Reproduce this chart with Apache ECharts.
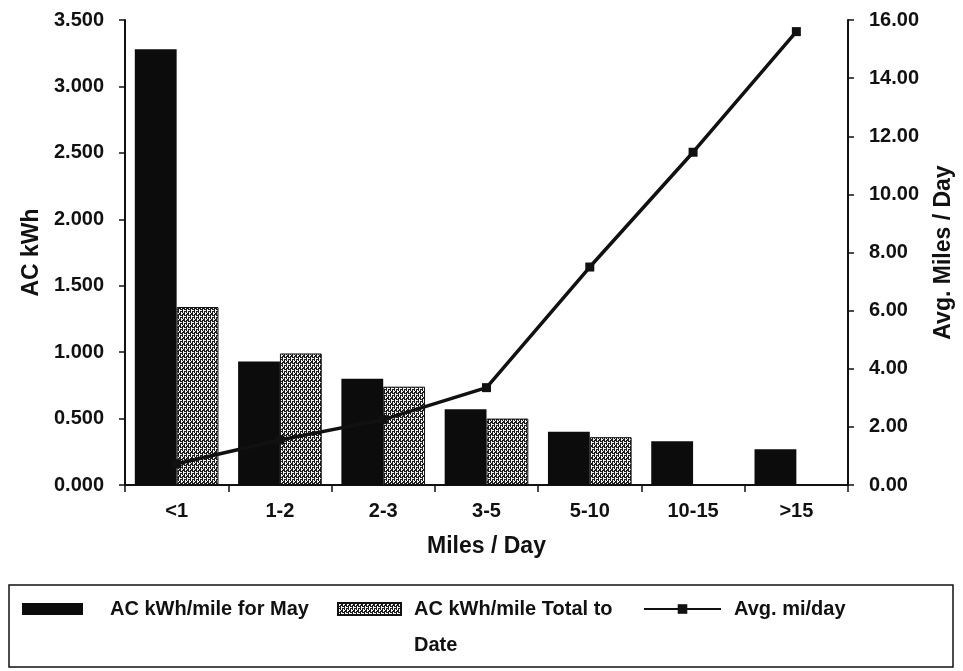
<!DOCTYPE html>
<html><head><meta charset="utf-8">
<script src="https://cdn.jsdelivr.net/npm/echarts@6/dist/echarts.min.js"></script>
<style>html,body{margin:0;padding:0;background:#fff}#c{width:963px;height:671px}</style>
</head><body><div id="c"></div>
<script>
var categories = ['<1', '1-2', '2-3', '3-5', '5-10', '10-15', '>15'];
var kwhMay = [3.28, 0.93, 0.80, 0.57, 0.40, 0.33, 0.27];
var kwhTotal = [1.34, 0.99, 0.74, 0.50, 0.36, null, null];
var avgMiles = [0.73, 1.55, 2.25, 3.35, 7.5, 11.45, 15.6];
var leftTicks = { min: 0, max: 3.5, interval: 0.5 };
var rightTicks = { min: 0, max: 16, interval: 2 };
var seriesNames = ['AC kWh/mile for May', 'AC kWh/mile Total to Date', 'Avg. mi/day'];

var pc = document.createElement('canvas');
pc.width = 4; pc.height = 6;
var g = pc.getContext('2d');
g.fillStyle = '#1c1c1c'; g.fillRect(0, 0, 4, 6);
g.fillStyle = '#f4f4f4';
[[1,0],[1,1],[1,2],[3,3],[3,4],[3,5],[0,4],[2,1],[3,0],[1,4]].forEach(function (p) { g.fillRect(p[0], p[1], 1, 1); });
var pattern = { image: pc, repeat: 'repeat' };

var font = 'Liberation Sans, Arial, sans-serif';
var tickFont = { fontSize: 20, fontWeight: 'bold', color: '#111', fontFamily: font };
var titleFont = { fontSize: 23, fontWeight: 'bold', color: '#111', fontFamily: font };
var legendFont = { fontSize: 20, fontWeight: 'bold', color: '#111', fontFamily: font };
var chart = echarts.init(document.getElementById('c'), null, { renderer: 'canvas' });
chart.setOption({
  animation: false,
  backgroundColor: '#fff',
  textStyle: { fontFamily: font, color: '#111' },
  grid: { left: 125, right: 112, top: 20, bottom: 186 },
  graphic: [{
    type: 'rect', shape: { x: 9, y: 585, width: 944, height: 82 },
    style: { fill: 'none', stroke: '#111', lineWidth: 1.5 }, z: 0
  }],
  legend: [
    { data: [{ name: seriesNames[0], icon: 'rect' }], left: 17, top: 592, itemWidth: 61, itemHeight: 12, itemGap: 0,
      textStyle: Object.assign({ padding: [0, 0, 0, 22], lineHeight: 24 }, legendFont) },
    { data: [{ name: seriesNames[1], icon: 'rect' }], left: 332, top: 550, itemWidth: 63, itemHeight: 12, itemGap: 0,
      formatter: function () { return ' \nAC kWh/mile Total to\nDate'; },
      textStyle: Object.assign({ padding: [0, 0, 0, 8], lineHeight: 36 }, legendFont) },
    { data: [seriesNames[2]], left: 638, top: 592, itemWidth: 77, itemHeight: 12, itemGap: 0,
      lineStyle: { width: 2 },
      textStyle: Object.assign({ padding: [0, 0, 0, 8], lineHeight: 24 }, legendFont) }
  ],
  xAxis: {
    type: 'category', data: categories,
    name: 'Miles / Day', nameLocation: 'middle', nameGap: 50,
    nameTextStyle: titleFont,
    axisLine: { lineStyle: { color: '#111', width: 2 } },
    axisTick: { show: true, length: 7, lineStyle: { color: '#111', width: 1.5 } },
    axisLabel: Object.assign({ margin: 16 }, tickFont)
  },
  yAxis: [{
    type: 'value', min: leftTicks.min, max: leftTicks.max, interval: leftTicks.interval,
    name: 'AC kWh', nameLocation: 'middle', nameGap: 74, nameRotate: 90,
    nameTextStyle: titleFont,
    axisLine: { show: true, lineStyle: { color: '#111', width: 2 } },
    axisTick: { show: true, length: 6, lineStyle: { color: '#111', width: 1.5 } },
    splitLine: { show: false },
    axisLabel: Object.assign({ margin: 21, formatter: function (v) { return v.toFixed(3); } }, tickFont)
  }, {
    type: 'value', position: 'right', min: rightTicks.min, max: rightTicks.max, interval: rightTicks.interval,
    name: 'Avg. Miles / Day', nameLocation: 'middle', nameGap: 84, nameRotate: 90,
    nameTextStyle: titleFont,
    axisLine: { show: true, lineStyle: { color: '#111', width: 2 } },
    axisTick: { show: true, length: 6, lineStyle: { color: '#111', width: 1.5 } },
    splitLine: { show: false },
    axisLabel: Object.assign({ margin: 21, formatter: function (v) { return v.toFixed(2); } }, tickFont)
  }],
  series: [
    { name: seriesNames[0], type: 'bar', data: kwhMay, z: 2,
      barGap: '0%', barCategoryGap: '19%', itemStyle: { color: '#0c0c0c' } },
    { name: seriesNames[1], type: 'bar', data: kwhTotal, z: 2,
      barGap: '0%', barCategoryGap: '19%',
      itemStyle: { color: pattern, borderColor: '#111', borderWidth: 1 } },
    { name: seriesNames[2], type: 'line', yAxisIndex: 1, data: avgMiles, z: 4,
      symbol: 'rect', symbolSize: 9, lineStyle: { color: '#111', width: 3.5 },
      itemStyle: { color: '#111' } }
  ]
});
</script></body></html>
